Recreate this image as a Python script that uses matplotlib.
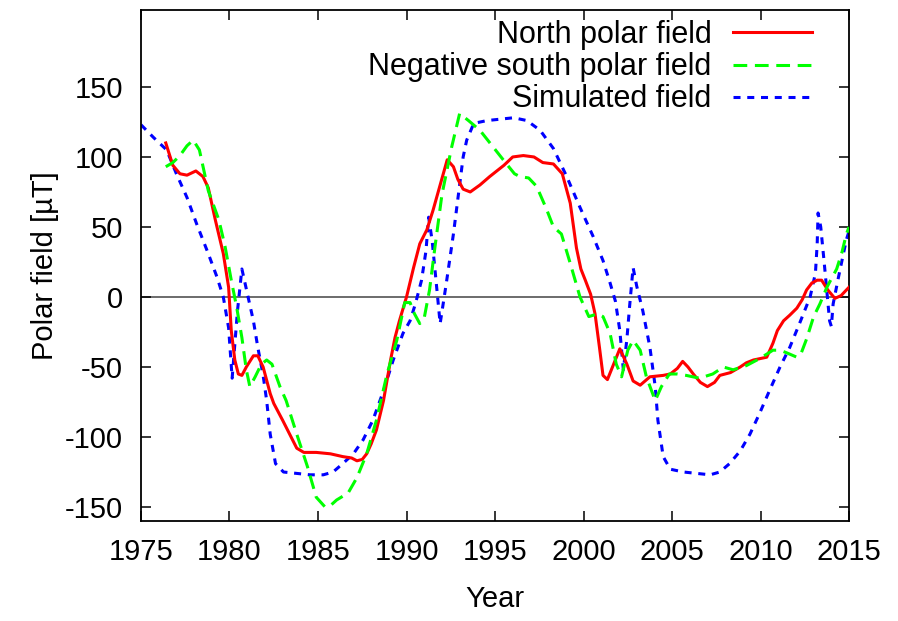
""" Polar field reconstruction vs simulation.
"""
import matplotlib
matplotlib.use("Agg")
import matplotlib.pyplot as plt


""" DATA """
north_years = [1976.4, 1976.8, 1977.2, 1977.6, 1978.1, 1978.5, 1978.8, 1979.2,
               1979.65, 1979.95, 1980.1, 1980.3, 1980.5, 1980.7, 1980.95, 1981.35,
               1981.6, 1981.9, 1982.3, 1982.5, 1983.0, 1983.4, 1983.8, 1984.2,
               1984.9, 1985.7, 1986.4, 1986.9, 1987.2, 1987.5, 1987.75, 1988.0,
               1988.3, 1988.7, 1989.1, 1989.35, 1989.6, 1990.0, 1990.4, 1990.75,
               1991.15, 1991.5, 1991.9, 1992.3, 1992.65, 1992.9, 1993.2, 1993.6,
               1994.15, 1994.7, 1995.1, 1995.5, 1996.0, 1996.6, 1997.2, 1997.7,
               1998.3, 1998.8, 1999.25, 1999.6, 1999.85, 2000.1, 2000.4, 2000.65,
               2000.9, 2001.1, 2001.35, 2001.7, 2002.05, 2002.45, 2002.8, 2003.2,
               2003.75, 2004.5, 2004.9, 2005.3, 2005.6, 2005.9, 2006.2, 2006.6,
               2007.0, 2007.4, 2007.7, 2008.3, 2008.85, 2009.2, 2009.6, 2010.35,
               2010.7, 2010.95, 2011.3, 2011.65, 2012.05, 2012.35, 2012.6, 2012.9,
               2013.2, 2013.45, 2013.8, 2014.2, 2014.55, 2015.0]
north_field = [110, 94, 88, 87, 90, 86, 78, 55,
               31, 7, -24, -45, -55, -56, -50, -42,
               -42, -50, -69, -76, -88, -98, -108, -111,
               -111, -112, -114, -115, -117, -116, -112, -105,
               -95, -74, -45, -29, -17, 0, 21, 38,
               48, 62, 80, 98, 93, 84, 77, 75,
               80, 86, 90, 94, 100, 101, 100, 96,
               95, 88, 67, 35, 20, 12, 2, -12,
               -36, -56, -59, -48, -37, -48, -60, -63,
               -57, -56, -55, -51, -46, -50, -55, -61,
               -64, -61, -56, -54, -50, -47, -45, -43,
               -33, -24, -17, -13, -8, -2, 5, 10,
               12, 12, 5, -1, 1, 7]

south_years = [1976.4, 1976.8, 1977.2, 1977.6, 1977.95, 1978.3, 1978.8, 1979.4,
               1979.75, 1980.1, 1980.4, 1980.7, 1980.95, 1981.15, 1981.45, 1981.8,
               1982.1, 1982.4, 1982.85, 1983.2, 1983.8, 1984.4, 1984.9, 1985.4,
               1985.7, 1986.05, 1986.7, 1987.2, 1987.75, 1988.3, 1988.9, 1989.45,
               1989.9, 1990.2, 1990.45, 1990.75, 1991.0, 1991.3, 1991.6, 1992.0,
               1992.55, 1993.0, 1993.5, 1994.15, 1994.9, 1995.65, 1996.1, 1996.4,
               1996.9, 1997.35, 1997.9, 1998.3, 1998.75, 1999.25, 1999.8, 2000.3,
               2000.8, 2001.1, 2001.5, 2001.85, 2002.15, 2002.5, 2002.8, 2003.2,
               2003.55, 2004.05, 2004.4, 2004.85, 2005.3, 2005.8, 2006.55, 2007.3,
               2007.9, 2008.45, 2009.2, 2009.95, 2010.7, 2011.1, 2011.5, 2012.05,
               2012.3, 2012.6, 2013.0, 2013.35, 2013.75, 2014.3, 2014.6, 2014.85,
               2015.0]
south_field = [93, 96, 101, 108, 112, 105, 76, 55,
               36, 12, -7, -29, -52, -64, -57, -48,
               -45, -48, -64, -74, -98, -121, -143, -150,
               -149, -145, -140, -129, -112, -88, -55, -31,
               -4, -4, -12, -19, -15, 5, 35, 73,
               107, 131, 126, 119, 107, 95, 88, 86,
               85, 79, 63, 50, 45, 24, 0, -14,
               -12, -14, -26, -48, -57, -38, -31, -38,
               -57, -74, -64, -55, -55, -56, -58, -55,
               -50, -52, -49, -44, -38, -38, -40, -43,
               -40, -30, -14, -5, 7, 20, 32, 45,
               50]

sim_years = [1975.0, 1975.7, 1976.45, 1977.0, 1977.6, 1978.15, 1978.8, 1979.3,
             1979.65, 1979.95, 1980.15, 1980.45, 1980.7, 1981.05, 1981.35, 1981.6,
             1981.9, 1982.1, 1982.3, 1982.6, 1983.05, 1983.8, 1984.55, 1985.3,
             1985.85, 1986.4, 1987.0, 1987.55, 1988.1, 1988.7, 1989.25, 1989.8,
             1990.2, 1990.5, 1990.85, 1991.1, 1991.25, 1991.45, 1991.65, 1991.9,
             1992.25, 1992.65, 1992.95, 1993.2, 1993.4, 1993.8, 1994.55, 1995.3,
             1996.05, 1996.8, 1997.55, 1998.3, 1999.05, 1999.8, 2000.55, 2001.1,
             2001.5, 2001.8, 2002.05, 2002.25, 2002.45, 2002.6, 2002.8, 2003.0,
             2003.35, 2003.75, 2004.05, 2004.2, 2004.5, 2004.9, 2005.65, 2006.4,
             2007.15, 2007.7, 2008.25, 2008.85, 2009.4, 2009.95, 2010.5, 2011.1,
             2011.65, 2012.2, 2012.8, 2013.1, 2013.2, 2013.25, 2013.4, 2013.6,
             2013.9, 2014.0, 2014.1, 2014.4, 2014.85, 2015.0]
sim_field = [123, 114, 105, 88, 71, 52, 31, 14,
             0, -22, -58, -10, 20, 0, -17, -36,
             -56, -74, -98, -119, -125, -126, -127, -127,
             -125, -119, -112, -102, -88, -67, -45, -26,
             -17, -5, 12, 33, 57, 40, 14, -19,
             10, 45, 75, 100, 112, 124, 126, 127,
             128, 126, 119, 106, 86, 64, 43, 26,
             10, -3, -24, -52, -30, -7, 21, 8,
             -10, -36, -64, -88, -114, -123, -125, -126,
             -127, -125, -119, -110, -98, -83, -67, -50,
             -36, -19, 0, 17, 38, 60, 50, 24,
             -17, -21, -5, 14, 41, 47]

labels = ["North polar field", "Negative south polar field", "Simulated field"]
year_ticks = [1975, 1980, 1985, 1990, 1995, 2000, 2005, 2010, 2015]
field_ticks = [-150, -100, -50, 0, 50, 100, 150]


""" PLOT """
def main():
    plt.rcParams['font.family'] = ['Liberation Sans', 'DejaVu Sans']
    plt.rcParams['axes.unicode_minus'] = False

    fig = plt.figure(figsize=(8.98, 6.21), dpi=100)
    ax = fig.add_axes([0.157, 0.161, 0.7885, 0.823])

    ax.axhline(0, color="#444444", lw=1.1, zorder=1)

    ax.plot(north_years, north_field, color="#ff0000", lw=2.2,
            label=labels[0], zorder=3)
    ax.plot(south_years, south_field, color="#00ff00", lw=2.2,
            dashes=(4.5, 2.5), label=labels[1], zorder=3)
    ax.plot(sim_years, sim_field, color="#0000ff", lw=2.2,
            dashes=(2.3, 2.2), label=labels[2], zorder=2)

    ax.set_xlim(1975, 2015)
    ax.set_ylim(-160, 205)
    ax.set_xticks(year_ticks)
    ax.set_yticks(field_ticks)
    ax.tick_params(direction="in", length=7, width=1.1, labelsize=21,
                   top=True, right=True)
    ax.tick_params(axis="x", pad=12)
    ax.tick_params(axis="y", pad=13)
    for s in ax.spines.values():
        s.set_linewidth(1.3)

    ax.set_xlabel("Year", fontsize=21, labelpad=14)
    ax.set_ylabel("Polar field [\u00b5T]", fontsize=21, labelpad=4)

    ax.legend(loc="upper right", bbox_to_anchor=(0.948, 0.980),
              frameon=False, markerfirst=False, fontsize=22,
              handlelength=2.6, handletextpad=0.7, labelspacing=0.07,
              borderpad=0, borderaxespad=0)

    fig.savefig("out.png", dpi=100)
    plt.close(fig)


if __name__ == "__main__":
    main()
